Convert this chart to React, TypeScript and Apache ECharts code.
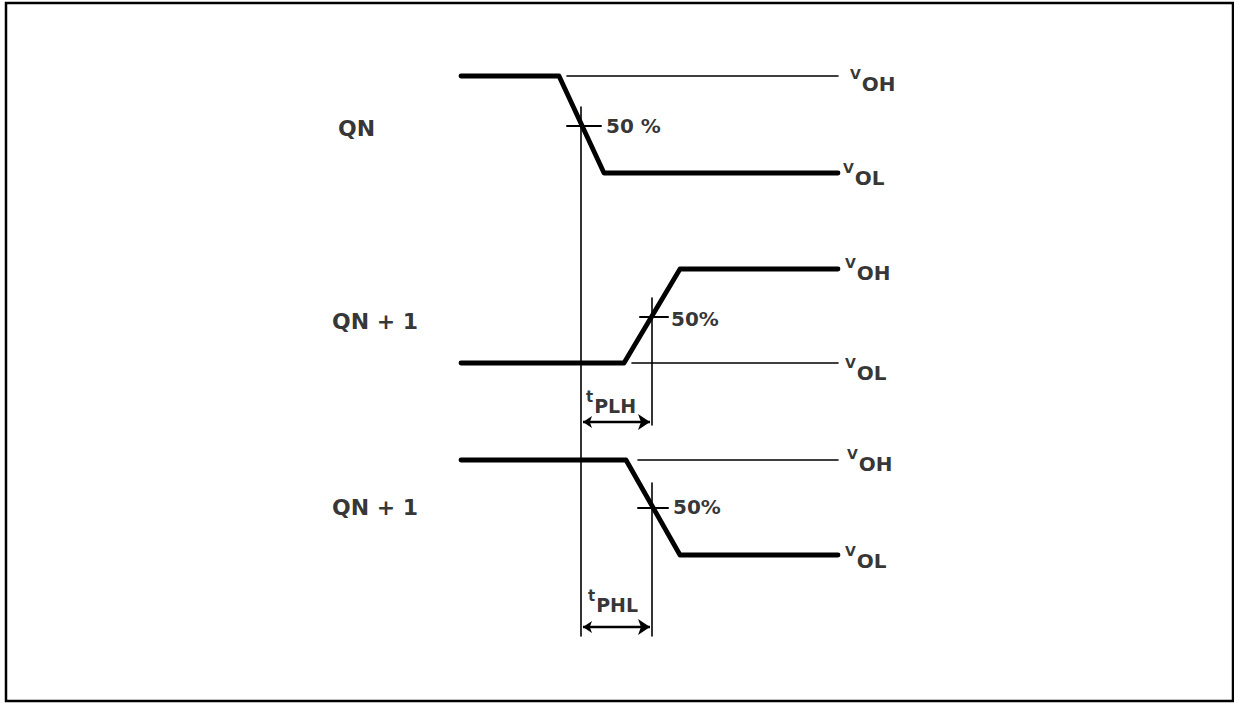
import React, { useEffect, useRef } from "react";
import * as echarts from "echarts";

// Time axis (horizontal) and level axis (vertical, downward) in drawing units
const X_RANGE = [0, 1234];
const Y_RANGE = [0, 704];

// Waveforms: [time, level]
const QN_WAVE = [[461, 76], [559, 76], [604, 173], [838, 173]];
const QN1_RISE_WAVE = [[461, 363], [624, 363], [680, 269], [838, 269]];
const QN1_FALL_WAVE = [[461, 460], [626, 460], [680, 555], [838, 555]];

// Thin reference level lines
const REF_LEVELS = [
  [[567, 76], [838, 76]],
  [[632, 363], [838, 363]],
  [[638, 460], [838, 460]],
];

// Vertical timing markers
const MARKERS = [
  [[581, 107], [581, 636]],
  [[652, 298], [652, 425]],
  [[652, 483], [652, 636]],
];

// 50% crossing ticks
const TICKS_50 = [
  [[567, 126], [601, 126]],
  [[640, 317], [668, 317]],
  [[638, 508], [668, 508]],
];

// Propagation delay arrows
const DELAY_ARROWS = [
  [[583, 422], [650, 422]],
  [[583, 627], [650, 627]],
];

// Signal names
const SIGNAL_NAMES = ["QN", "QN + 1", "QN + 1"];
const SIGNAL_POS = [[338, 128], [332, 321], [332, 507]];

// Level labels: [x, y, sub]
const LEVEL_LABELS: [number, number, string][] = [
  [850, 80, "OH"],
  [843, 174, "OL"],
  [845, 269, "OH"],
  [845, 369, "OL"],
  [847, 460, "OH"],
  [845, 557, "OL"],
];

// 50% labels
const PCT_LABELS: [number, number, string][] = [
  [606, 126, "50 %"],
  [671, 319, "50%"],
  [673, 507, "50%"],
];

// Delay labels
const DELAY_LABELS: [number, number, string][] = [
  [586, 402, "PLH"],
  [588, 601, "PHL"],
];

const FONT = "'DejaVu Sans', 'Liberation Sans', Arial, sans-serif";

function lineSeries(data: number[][], width: number) {
  return {
    type: "line",
    data,
    symbol: "none",
    silent: true,
    lineStyle: { color: "#000", width, cap: "round", join: "round" },
    z: 3,
  };
}

export default function App() {
  const ref = useRef<HTMLDivElement>(null);

  useEffect(() => {
    if (!ref.current) return;
    const chart = echarts.init(ref.current, undefined, { renderer: "svg" });

    const series: any[] = [];
    [QN_WAVE, QN1_RISE_WAVE, QN1_FALL_WAVE].forEach((w) => series.push(lineSeries(w, 4.8)));
    REF_LEVELS.forEach((w) => series.push(lineSeries(w, 1.6)));
    MARKERS.forEach((w) => series.push(lineSeries(w, 1.6)));
    TICKS_50.forEach((w) => series.push(lineSeries(w, 2)));

    series.push({
      type: "lines",
      coordinateSystem: "cartesian2d",
      silent: true,
      symbol: ["arrow", "arrow"],
      symbolSize: [9, 12],
      lineStyle: { color: "#000", width: 2.4, opacity: 1 },
      data: DELAY_ARROWS.map((c) => ({ coords: c })),
      z: 4,
    });

    const labelScatter = (data: any[], label: any) => ({
      type: "scatter",
      symbolSize: 0,
      silent: true,
      data,
      label: {
        show: true,
        position: "right",
        distance: 0,
        color: "#000",
        textBorderWidth: 0,
        fontFamily: FONT,
        ...label,
      },
      z: 5,
    });

    const sub = (size: number) => ({
      fontSize: size,
      fontWeight: "bold",
      fontFamily: FONT,
      verticalAlign: "bottom",
      padding: [7, 0, 0, 1],
      color: "#000",
    });
    const sup = (size: number) => ({
      fontSize: size,
      fontWeight: "bold",
      fontFamily: FONT,
      verticalAlign: "top",
      color: "#000",
    });

    series.push(
      labelScatter(
        SIGNAL_NAMES.map((n, i) => ({ value: SIGNAL_POS[i], name: n })),
        { formatter: (p: any) => p.name, fontSize: 22, fontWeight: "bold" }
      )
    );
    series.push(
      labelScatter(
        LEVEL_LABELS.map((l) => ({ value: [l[0], l[1]], name: l[2] })),
        {
          formatter: (p: any) => `{v|V}{s|${p.name}}`,
          rich: { v: sup(14), s: sub(20) },
        }
      )
    );
    series.push(
      labelScatter(
        PCT_LABELS.map((l) => ({ value: [l[0], l[1]], name: l[2] })),
        { formatter: (p: any) => p.name, fontSize: 20, fontWeight: "bold" }
      )
    );
    series.push(
      labelScatter(
        DELAY_LABELS.map((l) => ({ value: [l[0], l[1]], name: l[2] })),
        {
          formatter: (p: any) => `{v|t}{s|${p.name}}`,
          rich: { v: sup(15), s: sub(19) },
        }
      )
    );

    chart.setOption({
      animation: false,
      backgroundColor: "#fff",
      grid: { left: 0, right: 0, top: 0, bottom: 0 },
      xAxis: { type: "value", min: X_RANGE[0], max: X_RANGE[1], show: false },
      yAxis: { type: "value", min: Y_RANGE[0], max: Y_RANGE[1], inverse: true, show: false },
      graphic: [
        {
          type: "rect",
          shape: { x: 6, y: 3, width: 1227, height: 698 },
          style: { fill: "none", stroke: "#000", lineWidth: 2.5 },
          silent: true,
        },
      ],
      series,
    });

    return () => chart.dispose();
  }, []);

  return (
    <div
      ref={ref}
      style={{ position: "fixed", left: 0, top: 0, width: 1234, height: 704, background: "#fff" }}
    />
  );
}
